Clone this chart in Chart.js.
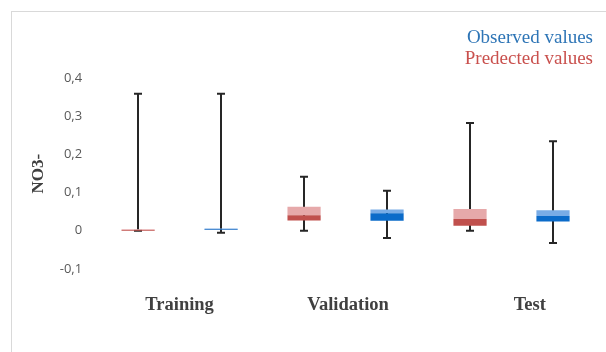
<!DOCTYPE html>
<html>
<head>
<meta charset="utf-8">
<script src="https://cdn.jsdelivr.net/npm/chart.js@4"></script>
<style>
    body { margin: 0; background: #fff; overflow: hidden; }
    #wrap { position: relative; width: 606px; height: 352px; }
    #frame { position: absolute; left: 11px; top: 11px; width: 620px; height: 360px; border: 1px solid #d9d9d9; }
    .legend { position: absolute; right: 13px; font-family: "Liberation Serif", serif; font-size: 19px; line-height: 22px; }
</style>
</head>
<body>
<div id="wrap">
    <div id="frame"></div>
    <canvas id="box-chart" width="606" height="352"></canvas>
    <div class="legend" style="top: 26px; color: #2e75b6;">Observed values</div>
    <div class="legend" style="top: 47px; color: #c9504d;">Predected values</div>
</div>
<script>
// Une boîte par jeu de données : prédit puis observé, pour chaque phase
const boxNames = ["Training pred", "Training obs", "Validation pred", "Validation obs", "Test pred", "Test obs"];
const groupLabels = ["Training", "Validation", "Test"];

const whiskerMin = [0, -0.005, 0, -0.019, 0, -0.032];
const q1 = [0, 0.002, 0.027, 0.026, 0.013, 0.024];
const medians = [0.002, 0.004, 0.041, 0.046, 0.031, 0.039];
const q3 = [0.004, 0.006, 0.063, 0.056, 0.057, 0.054];
const whiskerMax = [0.36, 0.36, 0.142, 0.105, 0.283, 0.235];

const yTicks = [-0.1, 0, 0.1, 0.2, 0.3, 0.4];

// Couleurs : rouge pour les valeurs prédites, bleu pour les observées
const darkColors = ["#c0504d", "#1f6fc5", "#c0504d", "#0b6bc9", "#c0504d", "#0b6bc9"];
const lightColors = ["#e6a9aa", "#79ace6", "#e6a9aa", "#79ace6", "#e6a9aa", "#79ace6"];

// Position des libellés de groupe sur l'axe (index des boîtes)
const groupTickPos = [0.5, 2.53, 4.72];

// Moustaches dessinées avant les boîtes pour qu'elles passent dessous
const whiskerPlugin = {
    id: "whiskers",
    beforeDatasetsDraw(chart) {
        const { ctx, scales: { x, y } } = chart;
        ctx.save();
        ctx.strokeStyle = "#262626";
        ctx.lineWidth = 2;
        whiskerMin.forEach((lo, i) => {
            const px = Math.round(x.getPixelForValue(i));
            const top = y.getPixelForValue(whiskerMax[i]);
            const bottom = y.getPixelForValue(lo);
            ctx.beginPath();
            ctx.moveTo(px, top);
            ctx.lineTo(px, bottom);
            ctx.moveTo(px - 4, top);
            ctx.lineTo(px + 4, top);
            ctx.moveTo(px - 4, bottom);
            ctx.lineTo(px + 4, bottom);
            ctx.stroke();
        });
        ctx.restore();
    }
};

const ctx = document.getElementById("box-chart").getContext("2d");

new Chart(ctx, {
    type: "bar",
    data: {
        labels: boxNames,
        datasets: [
            {
                label: "Q1 - médiane",
                data: q1.map((v, i) => [v, medians[i]]),
                backgroundColor: darkColors,
                grouped: false,
                barPercentage: 0.4,
                categoryPercentage: 1,
            },
            {
                label: "Médiane - Q3",
                data: medians.map((v, i) => [v, q3[i]]),
                backgroundColor: lightColors,
                grouped: false,
                barPercentage: 0.4,
                categoryPercentage: 1,
            },
        ],
    },
    options: {
        responsive: false,
        animation: false,
        devicePixelRatio: 1,
        layout: { padding: { top: 78.5, right: 11.5, bottom: 11, left: 28.8 } },
        plugins: {
            legend: { display: false },
            tooltip: { enabled: false },
        },
        scales: {
            x: {
                type: "category",
                display: false,
                offset: true,
            },
            groups: {
                type: "linear",
                position: "bottom",
                offset: false,
                min: -0.5,
                max: 5.5,
                grid: { display: false, drawTicks: false },
                border: { display: false },
                afterBuildTicks: (axis) => {
                    axis.ticks = groupTickPos.map((v) => ({ value: v }));
                },
                ticks: {
                    autoSkip: false,
                    maxRotation: 0,
                    padding: 25,
                    color: "#404040",
                    font: { family: "Liberation Serif", size: 18.5, weight: "bold" },
                    callback: (value, index) => groupLabels[index],
                },
            },
            y: {
                min: -0.1,
                max: 0.4,
                grid: { display: false, drawTicks: false },
                border: { display: false },
                afterBuildTicks: (axis) => {
                    axis.ticks = yTicks.map((v) => ({ value: v }));
                },
                ticks: {
                    padding: 14.5,
                    color: "#595959",
                    font: { family: "Open Sans", size: 13 },
                    callback: (value) => {
                        const v = Math.round(value * 10) / 10;
                        return v === 0 ? "0" : v.toFixed(1).replace(".", ",");
                    },
                },
                title: {
                    display: true,
                    text: "NO3-",
                    color: "#404040",
                    padding: { top: 0, bottom: -4 },
                    font: { family: "Liberation Serif", size: 17, weight: "bold" },
                },
            },
        },
    },
    plugins: [whiskerPlugin],
});
</script>
</body>
</html>
